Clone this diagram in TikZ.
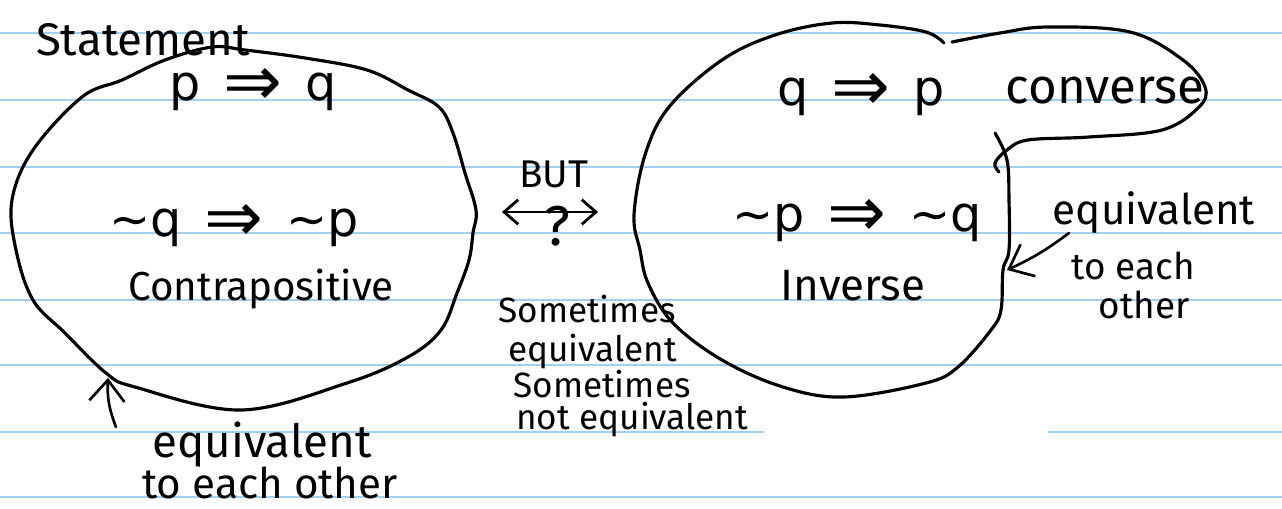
\documentclass[tikz,border=0pt]{standalone}
\usepackage{fontspec}
\setmainfont{Fira Sans}
\newfontfamily\symfont{DejaVu Sans}
\usetikzlibrary{arrows.meta,positioning}
\definecolor{ruleblue}{RGB}{160,208,238}
\tikzset{
  ink/.style={line width=1.8pt,line cap=round,line join=round},
  pen/.style={line width=1.5pt,line cap=round,-{Straight Barb[length=12pt,width=20pt]}},
  hand/.style={inner sep=0pt,anchor=base,font=\fontsize{24}{28}\selectfont},
  note/.style={inner sep=0pt,anchor=base west,font=\fontsize{20}{22}\selectfont},
  formula/.style={inner sep=0pt,anchor=base,font=\symfont\fontsize{28}{30}\selectfont}
}
\newcommand{\gapA}{\hspace{13pt}}
\newcommand{\bigimp}{\raisebox{-3pt}{\fontsize{40}{40}\selectfont ⇒}}

\begin{document}
\begin{tikzpicture}[x=0.02cm,y=-0.02cm]
  \useasboundingbox (0,0) rectangle (1282,508);
  \fill[white] (0,0) rectangle (1282,508);
  % ruled paper
  \foreach \ly in {33,100,167,233,300,365,497}
    \draw[ruleblue,line width=1.4pt] (0,\ly) -- (1282,\ly);
  \draw[ruleblue,line width=1.4pt] (0,432) -- (764,432) (1048,432) -- (1282,432);

  % left blob
  \draw[ink] plot[smooth cycle,tension=0.6] coordinates {(212,47) (245,50) (305,58) (367,70) (408,90) (439,107) (453,133) (465,173) (476,210) (473,233) (469,260) (457,293) (441,330) (408,357) (347,383) (241,410) (135,387) (106,373) (65,333) (33,300) (16,250) (12,200) (33,150) (82,97) (122,80) (165,60)};
  % right blob with lobe
  \draw[ink] plot[smooth,tension=0.6] coordinates {(944,43) (926,32) (880,25) (832,23) (775,35) (722,60) (669,107) (645,155) (634,215) (640,250) (648,283) (673,323) (722,360) (783,387) (844,397) (926,383) (958,367) (991,330) (1001,310) (1003,270) (1009,250) (1009,200) (1007,160) (995,133)};
  \draw[ink] plot[smooth,tension=0.6] coordinates {(952,42) (1000,33) (1048,27) (1130,32) (1183,60) (1205,87) (1199,107) (1162,130) (1089,137) (1028,140) (1007,150) (995,163) (999,172)};

  % left texts
  \node[hand,font=\fontsize{26}{28}\selectfont] (stmt) at (143,55) {Statement};
  \node[formula] (pq) at (253,100) {p\gapA\bigimp\gapA q};
  \node[formula] (nqnp) at (234,236) {∼q\gapA\bigimp\gapA∼p};
  \node[hand,font=\fontsize{23}{24}\selectfont] (contra) at (261,300) {Contrapositive};
  \node[hand,font=\fontsize{26}{28}\selectfont] (eqLa) at (262,457) {equivalent};
  \node[hand] (eqLb) at (270,498) {to each other};

  % middle
  \node[hand,font=\fontsize{22}{24}\selectfont] (but) at (554,187) {BUT};
  \coordinate (lend) at (502,212);
  \coordinate (rend) at (598,212);
  \draw[line width=1.6pt,line cap=round,{Straight Barb[length=8pt,width=14pt]}-{Straight Barb[length=8pt,width=14pt]}] (lend) -- (rend);
  \node[hand,font=\fontsize{32}{34}\selectfont] (qmark) at (557,245) {?};
  \node[note] (smA) at (498,322) {Sometimes};
  \node[note] (smB) at (508,361) {equivalent};
  \node[note] (smC) at (513,397) {Sometimes};
  \node[note] (smD) at (516,429) {not equivalent};

  % right texts
  \node[formula] (qp) at (861,105) {q\gapA\bigimp\gapA p};
  \node[hand,font=\fontsize{28}{30}\selectfont] (conv) at (1105,103) {converse};
  \node[formula] (npnq) at (857,231) {∼p\gapA\bigimp\gapA∼q};
  \node[hand,font=\fontsize{25}{28}\selectfont] (inv) at (853,300) {Inverse};
  \node[hand] (eqRa) at (1154,224) {equivalent};
  \node[hand,font=\fontsize{21}{24}\selectfont] (eqRb) at (1133,279) {to each};
  \node[hand,font=\fontsize{21}{24}\selectfont] (eqRc) at (1144,318) {other};

  % pointers onto the blobs
  \coordinate (tipL) at (108,378);
  \coordinate (tailL) at (116,427);
  \draw[pen] (tailL) to[bend left=12] (tipL);
  \coordinate (tipR) at (1007,270);
  \coordinate (tailR) at (1069,233);
  \draw[pen] (tailR) to[bend left=6] (tipR);
\end{tikzpicture}
\end{document}
